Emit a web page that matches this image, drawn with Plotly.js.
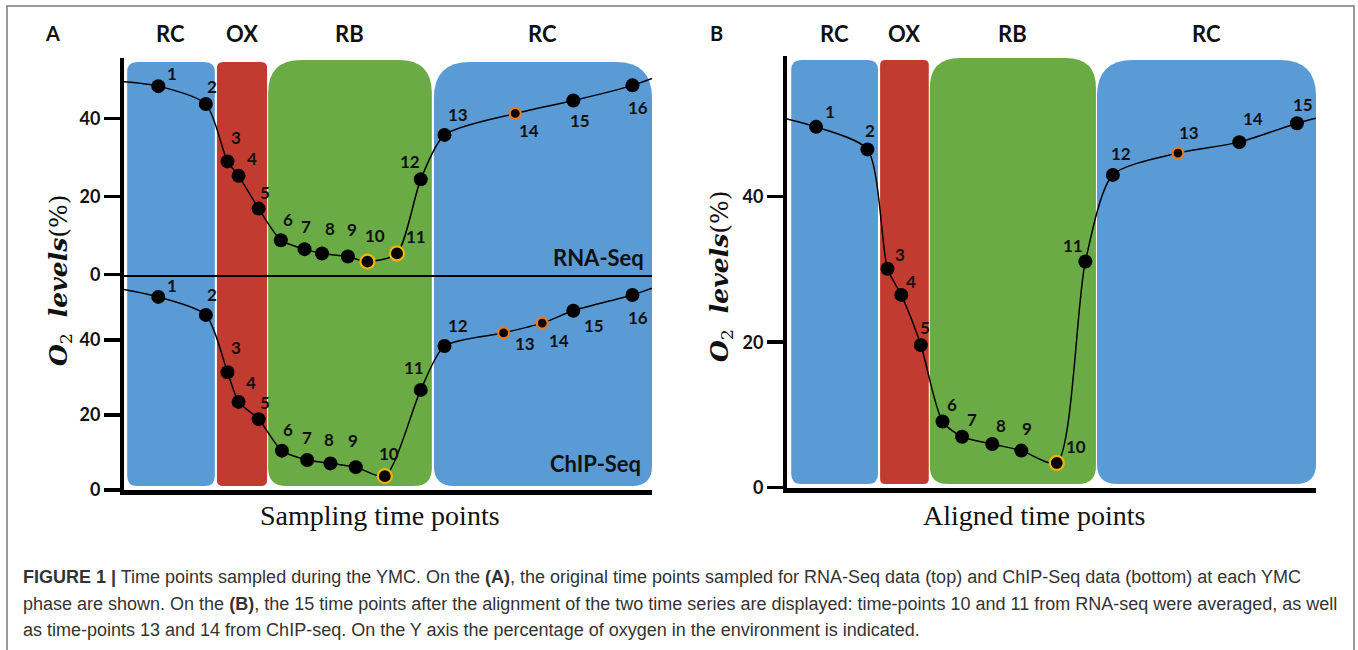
<!DOCTYPE html>
<html>
<head>
<meta charset="utf-8">
<script src="https://cdn.plot.ly/plotly-3.0.1.min.js"></script>
<style>html,body{margin:0;padding:0;background:#fff;}#chart{width:1358px;height:650px;}</style>
</head>
<body>
<div id="chart"></div>
<script>
// ---------- DATA ----------
// Panel A, RNA-Seq: sampling time (arbitrary units, 0-100 across the axis) and O2 level (%)
const rnaTime = [6.5, 15.5, 19.6, 21.7, 25.5, 29.7, 34.2, 37.5, 42.4, 46.1, 51.7, 56.2, 60.7, 74.1, 85.1, 96.3];
const rnaO2   = [48.3, 43.7, 29.0, 25.3, 16.9, 8.8, 6.5, 5.4, 4.6, 3.3, 5.4, 24.4, 35.8, 41.3, 44.6, 48.5];
const rnaEdgeO2 = [49.4, 50.3];          // curve value at left / right end of the time axis
// Panel A, ChIP-Seq
const chipTime = [6.5, 15.5, 19.6, 21.7, 25.5, 29.9, 34.7, 39.1, 43.9, 49.4, 56.2, 60.7, 71.9, 79.2, 85.1, 96.3];
const chipO2   = [51.5, 46.7, 31.4, 23.5, 18.9, 10.5, 8.0, 7.1, 6.1, 3.7, 26.7, 38.4, 41.9, 44.5, 47.8, 52.0];
const chipEdgeO2 = [53.5, 53.8];
// Panel B, aligned time points
const alignedTime = [5.5, 15.2, 19.0, 21.6, 25.3, 29.4, 33.1, 38.8, 44.3, 51.0, 56.4, 61.6, 73.9, 85.5, 96.4];
const alignedO2   = [49.6, 46.5, 30.1, 26.5, 19.6, 9.1, 7.0, 6.0, 5.1, 3.4, 31.1, 43.0, 46.0, 47.5, 50.1];
const alignedEdgeO2 = [50.7, 50.8];
// point kinds: n = normal, y = yellow ring, o = orange ring
const rnaKind     = ['n','n','n','n','n','n','n','n','n','y','y','n','n','o','n','n'];
const chipKind    = ['n','n','n','n','n','n','n','n','n','y','n','n','o','o','n','n'];
const alignedKind = ['n','n','n','n','n','n','n','n','n','y','n','n','o','n','n'];
// YMC phases and their time bounds
const phaseNames  = ['RC', 'OX', 'RB', 'RC'];
const phaseBoundsA = [[0.6, 17.2], [17.6, 27.1], [27.3, 58.3], [58.7, 100]];
const phaseBoundsB = [[0.8, 17.2], [17.6, 26.8], [27.0, 58.4], [58.6, 100]];
const yTicks = [0, 20, 40];
const captionLines = [
  '<b>FIGURE 1 |</b> Time points sampled during the YMC. On the <b>(A)</b>, the original time points sampled for RNA-Seq data (top) and ChIP-Seq data (bottom) at each YMC',
  'phase are shown. On the <b>(B)</b>, the 15 time points after the alignment of the two time series are displayed: time-points 10 and 11 from RNA-seq were averaged, as well',
  'as time-points 13 and 14 from ChIP-seq. On the Y axis the percentage of oxygen in the environment is indicated.'
];

// ---------- STYLE / POSITIONS ----------
const W = 1358, H = 650;
const px = p => p / W;
const py = p => 1 - p / H;
const phaseColors = ['#5b9bd5', '#c23b30', '#6aab46', '#5b9bd5'];
const radiiA = [[10, 10], [6, 6], [33, 18], [36, 20]];   // [top, bottom] corner radius px
const radiiB = [[10, 10], [5, 5], [30, 18], [36, 20]];
const boxTopA = [62, 62, 60, 62], boxBotA = 486;
const boxTopB = [60, 60, 58, 60], boxBotB = 484;
const labelOffRna = [[14,-13],[6,-18],[9,-24],[13,-17],[6,-16],[7,-21],[1,-23],[8,-25],[4,-27],[8,-26],[19,-17],[-11,-18],[13,-20],[14,17],[7,20],[6,22]];
const labelOffChip = [[14,-11],[6,-20],[9,-25],[12,-19],[6,-17],[6,-21],[0,-23],[-1,-24],[-3,-27],[4,-23],[-7,-22],[13,-21],[21,11],[17,17],[21,15],[6,22]];
const labelOffAligned = [[14,-15],[3,-19],[12,-14],[10,-13],[4,-18],[9,-17],[10,-17],[9,-19],[6,-22],[19,-16],[-12,-16],[8,-21],[11,-21],[14,-24],[6,-19]];

const domA = [px(124), px(652)], domB = [px(787), px(1316)];
const domTop = [py(274.5), py(58)], domBot = [py(490), py(274.5)], domBy = [py(487.7), py(56)];
const rangeTop = [0, (274.5 - 58) / 3.9], rangeBot = [0, (490 - 274.5) / 3.75], rangeB = [0, (487.7 - 56) / 7.275];

const boldFont = 'Lato, "Open Sans", sans-serif';
const serifFont = '"Liberation Serif", "DejaVu Serif", serif';

function roundedPath(x0, x1, yTop, yBot, rt, rb) {
  const rtx = rt / W, rty = rt / H, rbx = rb / W, rby = rb / H;
  return `M ${x0 + rtx},${yTop} L ${x1 - rtx},${yTop} Q ${x1},${yTop} ${x1},${yTop - rty} ` +
         `L ${x1},${yBot + rby} Q ${x1},${yBot} ${x1 - rbx},${yBot} L ${x0 + rbx},${yBot} ` +
         `Q ${x0},${yBot} ${x0},${yBot + rby} L ${x0},${yTop - rty} Q ${x0},${yTop} ${x0 + rtx},${yTop} Z`;
}

const shapes = [];
const annotations = [];
function addPhases(bounds, dom, radii, tops, bot) {
  bounds.forEach((b, i) => {
    const x0 = dom[0] + b[0] / 100 * (dom[1] - dom[0]);
    const x1 = dom[0] + b[1] / 100 * (dom[1] - dom[0]);
    shapes.push({type: 'path', xref: 'paper', yref: 'paper', layer: 'below',
      path: roundedPath(x0, x1, py(tops[i]), py(bot), radii[i][0], radii[i][1]),
      fillcolor: phaseColors[i], line: {width: 0}});
    annotations.push({xref: 'paper', yref: 'paper', x: (x0 + x1) / 2, y: py(34), text: phaseNames[i],
      showarrow: false, xanchor: 'center', yanchor: 'middle',
      font: {family: boldFont, size: 22, color: '#111', weight: 700}});
  });
}
addPhases(phaseBoundsA, domA, radiiA, boxTopA, boxBotA);
addPhases(phaseBoundsB, domB, radiiB, boxTopB, boxBotB);

// outer frame
shapes.push({type: 'rect', xref: 'paper', yref: 'paper', x0: px(7), x1: px(1354), y0: -0.05, y1: py(6),
  line: {color: '#7a7a7a', width: 1.5}, fillcolor: 'rgba(0,0,0,0)', layer: 'above'});

const traces = [];
function addSeries(time, o2, edge, kind, offs, xa, ya) {
  traces.push({x: [0, ...time, 100], y: [edge[0], ...o2, edge[1]], xaxis: xa, yaxis: ya,
    mode: 'lines', line: {color: '#000', width: 1.5, shape: 'spline', smoothing: 0.7},
    hoverinfo: 'skip', showlegend: false, cliponaxis: false});
  traces.push({x: time, y: o2, xaxis: xa, yaxis: ya, mode: 'markers', showlegend: false, cliponaxis: false,
    opacity: 1,
    marker: {color: '#000', opacity: 1,
      size: kind.map(k => k === 'o' ? 11 : 14),
      line: {color: kind.map(k => k === 'y' ? '#f4b400' : (k === 'o' ? '#ec7a1c' : '#000')),
             width: kind.map(k => k === 'n' ? 0 : 2.2)}}});
  time.forEach((t, i) => {
    annotations.push({xref: xa, yref: ya, x: t, y: o2[i], text: String(i + 1), showarrow: false,
      xshift: offs[i][0], yshift: -offs[i][1], xanchor: 'center', yanchor: 'middle',
      font: {family: boldFont, size: 17, color: '#111', weight: 700}});
  });
}
addSeries(rnaTime, rnaO2, rnaEdgeO2, rnaKind, labelOffRna, 'x', 'y');
addSeries(chipTime, chipO2, chipEdgeO2, chipKind, labelOffChip, 'x2', 'y2');
addSeries(alignedTime, alignedO2, alignedEdgeO2, alignedKind, labelOffAligned, 'x3', 'y3');

function xAx(dom, anchor, lw) {
  return {domain: dom, anchor: anchor, range: [0, 100], showgrid: false, zeroline: false,
    showticklabels: false, ticks: '', showline: true, linecolor: '#000', linewidth: lw, fixedrange: true};
}
function yAx(dom, anchor, range) {
  return {domain: dom, anchor: anchor, range: range, showgrid: false, zeroline: false,
    tickvals: yTicks, ticktext: yTicks.map(String), ticks: 'outside', ticklen: 16, tickwidth: 3.5, tickcolor: '#000',
    showline: true, linecolor: '#000', linewidth: 4,
    tickfont: {family: boldFont, size: 18, color: '#111', weight: 700}, fixedrange: true};
}

// panel letters, series names, axis titles
[[52, 'A'], [716, 'B']].forEach(a => annotations.push({xref: 'paper', yref: 'paper', x: px(a[0]), y: py(33),
  text: a[1], showarrow: false, xanchor: 'center', yanchor: 'middle',
  font: {family: boldFont, size: 20, color: '#111', weight: 700}}));
annotations.push({xref: 'paper', yref: 'paper', x: px(646), y: py(257), text: 'RNA-Seq', showarrow: false,
  xanchor: 'right', yanchor: 'middle', font: {family: boldFont, size: 22, color: '#111', weight: 700}});
annotations.push({xref: 'paper', yref: 'paper', x: px(643), y: py(463), text: 'ChIP-Seq', showarrow: false,
  xanchor: 'right', yanchor: 'middle', font: {family: boldFont, size: 22, color: '#111', weight: 700}});
const yTitle = '<b><i>O</i></b><sub>2</sub>  <b><i>levels</i></b>(%)';
[[60, 280], [721, 276]].forEach(p => annotations.push({xref: 'paper', yref: 'paper', x: px(p[0]), y: py(p[1]),
  text: yTitle, textangle: -90, showarrow: false, xanchor: 'center', yanchor: 'middle',
  font: {family: '"DejaVu Serif", serif', size: 25, color: '#111'}}));
annotations.push({xref: 'paper', yref: 'paper', x: px(380), y: py(515), text: 'Sampling time points', showarrow: false,
  xanchor: 'center', yanchor: 'middle', font: {family: serifFont, size: 28, color: '#111'}});
annotations.push({xref: 'paper', yref: 'paper', x: px(1034), y: py(515), text: 'Aligned time points', showarrow: false,
  xanchor: 'center', yanchor: 'middle', font: {family: serifFont, size: 28, color: '#111'}});
// caption
[577, 604, 630].forEach((yy, i) => annotations.push({xref: 'paper', yref: 'paper', x: px(21), y: py(yy),
  text: captionLines[i], showarrow: false, xanchor: 'left', yanchor: 'middle',
  font: {family: '"Liberation Sans", Arial, sans-serif', size: 18, color: '#333'}}));

const layout = {
  width: W, height: H, margin: {l: 0, r: 0, t: 0, b: 0},
  paper_bgcolor: '#fff', plot_bgcolor: 'rgba(0,0,0,0)', showlegend: false,
  xaxis: xAx(domA, 'y', 2.5), yaxis: yAx(domTop, 'x', rangeTop),
  xaxis2: xAx(domA, 'y2', 5), yaxis2: yAx(domBot, 'x2', rangeBot),
  xaxis3: xAx(domB, 'y3', 5), yaxis3: yAx(domBy, 'x3', rangeB),
  shapes: shapes, annotations: annotations
};
Plotly.newPlot('chart', traces, layout, {displayModeBar: false, staticPlot: true});
</script>
</body>
</html>
